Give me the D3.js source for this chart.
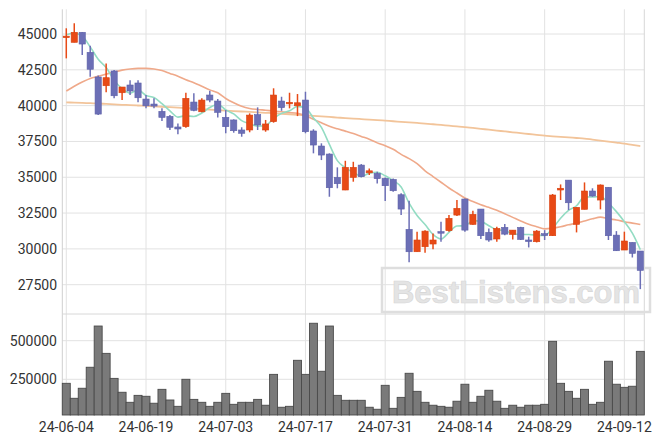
<!DOCTYPE html>
<html><head><meta charset="utf-8">
<script src="https://cdn.jsdelivr.net/npm/d3@7/dist/d3.min.js"></script>
<style>
html,body{margin:0;padding:0;background:#fff;}
svg{display:block;font-family:Roboto,"Noto Sans",sans-serif;}
</style></head>
<body>
<svg id="chart" width="663" height="444"></svg>
<script>
const dates = ["24-06-04","24-06-05","24-06-07","24-06-10","24-06-11","24-06-12","24-06-13","24-06-14","24-06-17","24-06-18",
"24-06-19","24-06-20","24-06-21","24-06-24","24-06-25","24-06-26","24-06-27","24-06-28","24-07-01","24-07-02",
"24-07-03","24-07-04","24-07-05","24-07-08","24-07-09","24-07-10","24-07-11","24-07-12","24-07-15","24-07-16",
"24-07-17","24-07-18","24-07-19","24-07-22","24-07-23","24-07-24","24-07-25","24-07-26","24-07-29","24-07-30",
"24-07-31","24-08-01","24-08-02","24-08-05","24-08-06","24-08-07","24-08-08","24-08-09","24-08-12","24-08-13",
"24-08-14","24-08-16","24-08-19","24-08-20","24-08-21","24-08-22","24-08-23","24-08-26","24-08-27","24-08-28",
"24-08-29","24-08-30","24-09-02","24-09-03","24-09-04","24-09-05","24-09-06","24-09-09","24-09-10","24-09-11",
"24-09-12","24-09-13","24-09-19"];

const openP = [44750,44420,45120,43720,42000,41390,42420,40900,41440,41580,
40460,40110,39600,39250,38510,38530,40250,39570,40740,40320,
39180,39000,38300,38300,39370,38300,38880,40320,40200,39990,
40390,38230,37180,36620,34990,34110,34990,35850,35310,35270,
34920,34850,33780,31360,29800,30150,30340,31200,31270,32360,
33480,31710,32780,31150,30690,31500,31010,31500,30620,30500,
31060,30920,34110,34800,31710,32760,34040,33410,34300,30960,
29920,30450,29850];
const highP = [45400,45750,45120,44180,42100,42950,42490,41300,41770,41770,
40740,40510,39810,39340,38760,40900,40860,40510,41040,40460,
39690,39040,38490,39460,39880,39000,41210,40620,40900,40810,
40970,38350,37370,36670,35690,36150,36080,35920,35620,35380,
34990,34920,33880,33360,31200,31300,31080,31890,32360,33410,
33520,32660,32780,31430,31540,31730,31310,31540,30850,31310,
31310,33830,34500,34800,32900,34640,34230,34500,34300,31240,
31200,30450,29850];
const lowP = [43300,44420,43530,42020,39340,40930,40510,40390,40740,40230,
39810,39810,38930,38300,38000,38460,39600,39530,40230,39180,
38070,38110,37830,38140,38300,38180,38810,39640,39810,39270,
38070,36670,36200,33640,34230,34100,34690,34990,35150,34570,
33340,33990,32360,29060,29800,29730,29970,30500,31200,32290,
31200,31680,30690,30500,30500,30960,30660,30620,30100,30450,
30620,30900,33410,32710,31150,32760,33640,32760,30620,29850,
29920,29400,27190];
const closeP = [44850,45120,44300,42540,39410,41950,40690,41300,41020,40550,
39990,39970,39180,38490,38370,40510,39670,40390,40390,39530,
38530,38250,38070,39340,38650,38720,40740,39860,40230,40200,
38180,37250,36550,34270,34550,35690,35690,35040,35450,34900,
34410,34060,32780,29800,30620,31240,30620,31160,32130,32830,
31310,32410,30920,30620,31430,31030,31310,30660,30550,31240,
30940,33760,34230,33220,32900,34040,33690,34460,30920,29870,
30550,29690,28500];
const volume = [224000,127000,192000,328000,595000,418000,256000,166000,101000,146000,
140000,95000,185000,116000,75000,250000,120000,101000,75000,101000,
159000,88000,101000,101000,120000,82000,282000,69000,75000,373000,
282000,613000,302000,595000,146000,114000,114000,114000,69000,56000,
211000,62000,133000,289000,172000,101000,82000,75000,69000,108000,
218000,101000,140000,179000,108000,62000,82000,69000,82000,82000,
88000,496000,224000,172000,127000,185000,88000,101000,367000,218000,
198000,205000,431000];
const ma5 = [44950,45050,44850,44100,43240,42660,41780,41180,40870,41100,
40710,40570,40140,39640,39200,39300,39240,39490,39870,40100,
39700,39420,38950,38740,38570,38610,39100,39460,39640,39950,
39840,39140,38480,37290,36160,35660,35350,35050,35280,35350,
35100,34770,34320,33190,32330,31700,31010,30690,31150,31600,
31610,31970,31920,31620,31340,31280,31060,31010,31000,30960,
30940,31430,32140,32680,33010,33630,33620,33660,33200,32600,
31900,31100,29950];
const ma20 = [41020,41350,41650,41900,42050,42200,42350,42480,42560,42600,
42600,42560,42450,42250,42050,41800,41600,41350,41100,40900,
40500,40200,39950,39800,39730,39680,39620,39570,39520,39460,
39300,39050,38800,38560,38380,38220,38050,37850,37650,37400,
37200,36950,36600,36300,35950,35450,35050,34650,34250,33900,
33550,33300,33080,32900,32700,32450,32200,31950,31720,31550,
31400,31450,31550,31680,31800,31950,32100,32220,32100,32020,
31900,31800,31700];
const ma60 = [40230,40210,40190,40170,40150,40120,40090,40060,40040,40010,
39980,39950,39920,39890,39860,39830,39800,39760,39720,39690,
39650,39620,39590,39560,39530,39500,39470,39430,39400,39360,
39330,39290,39250,39210,39170,39130,39100,39060,39020,38990,
38950,38910,38870,38830,38790,38750,38700,38650,38600,38550,
38500,38440,38380,38320,38260,38200,38140,38080,38020,37960,
37900,37860,37820,37780,37740,37700,37630,37560,37490,37420,
37350,37260,37180];
const priceTicks = [27500,30000,32500,35000,37500,40000,42500,45000];
const volumeTicks = [250000,500000];
const dateTickIdx = [0,10,20,30,40,50,60,70];

const svg = d3.select("#chart");
const L = 62.3, R = 644.3, pTop = 9.3, pBot = 314, vTop = 314, vBot = 415;
const n = dates.length;
const x = d3.scaleLinear().domain([-0.5, n - 0.5]).range([L, R]);
const step = x(1) - x(0);
const y = d3.scaleLinear().domain([25454, 46725]).range([pBot, pTop]);
const yv = d3.scaleLinear().domain([18782, 672927]).range([vBot, vTop]);
const gridC = "#e2e2e2";

// grids
const g = svg.append("g");
g.selectAll(".hg").data(priceTicks).join("line")
  .attr("x1", L).attr("x2", R).attr("y1", d => y(d)).attr("y2", d => y(d))
  .attr("stroke", gridC).attr("stroke-width", 1);
g.selectAll(".vg").data(volumeTicks).join("line")
  .attr("x1", L).attr("x2", R).attr("y1", d => yv(d)).attr("y2", d => yv(d))
  .attr("stroke", gridC).attr("stroke-width", 1);
g.selectAll(".xg").data(dateTickIdx).join("line")
  .attr("x1", d => x(d)).attr("x2", d => x(d)).attr("y1", pTop).attr("y2", vBot)
  .attr("stroke", gridC).attr("stroke-width", 1);
// frame
g.append("line").attr("x1", L).attr("x2", L).attr("y1", pTop).attr("y2", vBot).attr("stroke", "#cfcfcf");
g.append("line").attr("x1", R).attr("x2", R).attr("y1", pTop).attr("y2", vBot).attr("stroke", "#d8d8d8");
g.append("line").attr("x1", L).attr("x2", R).attr("y1", vTop).attr("y2", vTop).attr("stroke", "#d8d8d8");

// watermark
const wm = svg.append("g");
wm.append("rect").attr("x", 382).attr("y", 268).attr("width", 268).attr("height", 44)
  .attr("fill", "none").attr("stroke", "#dedede").attr("stroke-width", 2.5);
wm.append("text").attr("x", 516).attr("y", 303).attr("text-anchor", "middle")
  .attr("font-family", "'Liberation Sans',Arial,sans-serif").attr("font-weight", "bold")
  .attr("font-size", 31).attr("fill", "#e4e4e4").attr("stroke", "#d6d6d6").attr("stroke-width", 0.6)
  .text("BestListens.com");

// volume bars
svg.append("g").selectAll("rect").data(volume).join("rect")
  .attr("x", (d, i) => x(i) - step / 2).attr("width", step)
  .attr("y", d => yv(d)).attr("height", d => vBot - yv(d))
  .attr("fill", "#7a7a7a").attr("stroke", "#4a4a4a").attr("stroke-width", 0.9);

// MA lines
const lineGen = arr => d3.line().x((d, i) => x(i)).y(d => y(d)).curve(d3.curveMonotoneX)(arr);
svg.append("path").attr("d", lineGen(ma60)).attr("fill", "none").attr("stroke", "#f2c49a").attr("stroke-width", 1.8);
svg.append("path").attr("d", lineGen(ma20)).attr("fill", "none").attr("stroke", "#efa98a").attr("stroke-width", 1.6);
svg.append("path").attr("d", lineGen(ma5)).attr("fill", "none").attr("stroke", "#93dcc3").attr("stroke-width", 1.6);

// candles
const up = "#e84a16", down = "#6c6fb6";
const cg = svg.append("g");
const idx = d3.range(n);
cg.selectAll("line").data(idx).join("line")
  .attr("x1", i => x(i)).attr("x2", i => x(i))
  .attr("y1", i => y(highP[i])).attr("y2", i => y(lowP[i]))
  .attr("stroke", i => closeP[i] >= openP[i] ? up : down).attr("stroke-width", 1.5);
const bw = step * 0.78;
cg.selectAll("rect").data(idx).join("rect")
  .attr("x", i => x(i) - bw / 2).attr("width", bw)
  .attr("y", i => y(Math.max(openP[i], closeP[i])))
  .attr("height", i => Math.max(1.5, Math.abs(y(openP[i]) - y(closeP[i]))))
  .attr("fill", i => closeP[i] >= openP[i] ? up : down)
  .attr("stroke", i => closeP[i] >= openP[i] ? "#d8400f" : "#5d60a8").attr("stroke-width", 0.6);

// axes labels
const tc = "#333";
svg.append("g").selectAll("text").data(priceTicks).join("text")
  .attr("x", 57).attr("y", d => y(d)).attr("dy", "0.35em").attr("text-anchor", "end")
  .attr("font-size", 14).attr("fill", tc).text(d => d);
svg.append("g").selectAll("text").data(volumeTicks).join("text")
  .attr("x", 57).attr("y", d => yv(d)).attr("dy", "0.35em").attr("text-anchor", "end")
  .attr("font-size", 14).attr("fill", tc).text(d => d);
svg.append("g").selectAll("text").data(dateTickIdx).join("text")
  .attr("x", d => x(d)).attr("y", 431.5).attr("text-anchor", "middle")
  .attr("font-size", 14).attr("fill", tc).text(d => dates[d]);
</script>
</body></html>
